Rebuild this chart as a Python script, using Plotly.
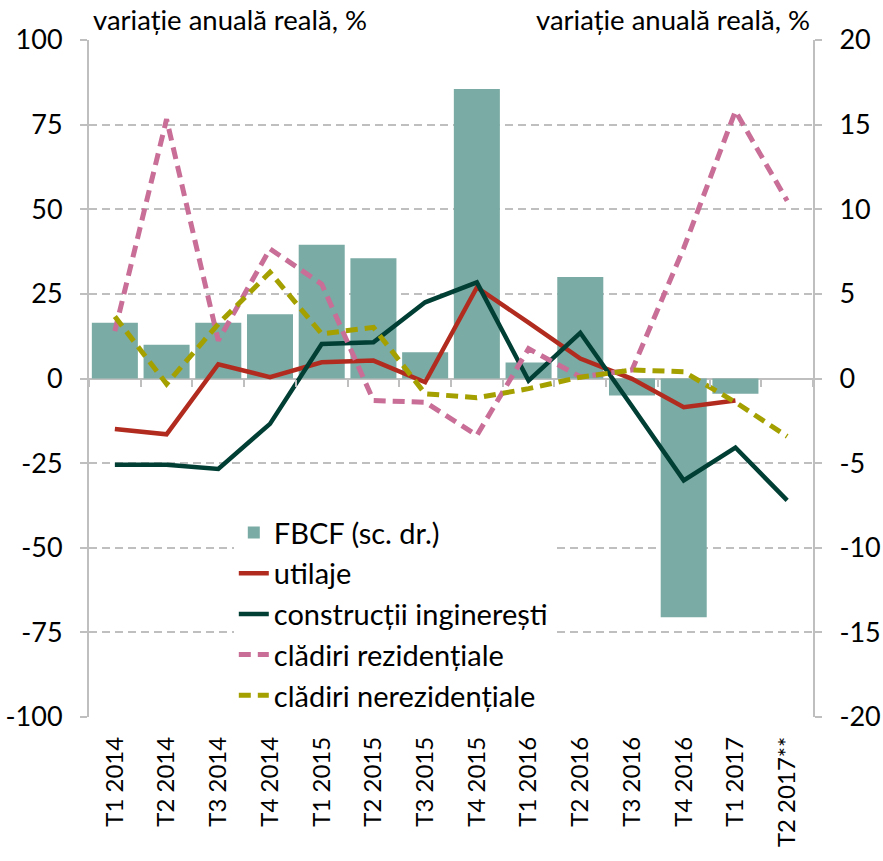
import plotly.graph_objects as go

categories = ["T1 2014", "T2 2014", "T3 2014", "T4 2014", "T1 2015", "T2 2015", "T3 2015",
              "T4 2015", "T1 2016", "T2 2016", "T3 2016", "T4 2016", "T1 2017", "T2 2017**"]

# FBCF, right scale (%)
fbcf = [3.3, 2.0, 3.3, 3.8, 7.9, 7.1, 1.55, 17.1, 0.95, 6.0, -1.0, -14.1, -0.9, None]
# left scale (%)
utilaje = [-14.9, -16.5, 4.2, 0.4, 4.8, 5.3, -1.1, 26.9, 16.5, 5.9, -0.1, -8.5, -6.5, None]
constructii = [-25.5, -25.5, -26.7, -13.4, 10.2, 10.7, 22.5, 28.4, -0.6, 13.5, -8.2, -30.1, -20.4, -36.0]
rezidentiale = [14.0, 76.6, 11.2, 38.3, 27.9, -6.5, -7.0, -16.8, 8.8, 0.5, 2.5, 38.5, 79.0, 52.5]
nerezidentiale = [18.3, -1.6, 16.1, 31.4, 13.2, 15.1, -4.5, -5.7, -3.0, 0.4, 2.5, 2.0, -7.0, -17.1]

left_ticks = [-100, -75, -50, -25, 0, 25, 50, 75, 100]
right_ticks = [-20, -15, -10, -5, 0, 5, 10, 15, 20]
axis_title = "variație anuală reală, %"

FONT = "Lato, 'Open Sans', sans-serif"
GRID = "#BFBFBF"

fig = go.Figure()

fig.add_trace(go.Bar(x=categories, y=fbcf, name="FBCF (sc. dr.)", marker_color="#7AABA4",
                     marker_line_width=0, yaxis="y", legendgroup="a"))
fig.add_trace(go.Scatter(x=categories, y=utilaje, name="utilaje", mode="lines",
                         line=dict(color="#B22B1F", width=4.5), yaxis="y2", legendgroup="b"))
fig.add_trace(go.Scatter(x=categories, y=constructii, name="construcții inginerești", mode="lines",
                         line=dict(color="#013F35", width=4.5), yaxis="y2", legendgroup="c"))
fig.add_trace(go.Scatter(x=categories, y=rezidentiale, name="clădiri rezidențiale", mode="lines",
                         line=dict(color="#C86E97", width=5, dash="12px,7px"), yaxis="y2", legendgroup="d"))
fig.add_trace(go.Scatter(x=categories, y=nerezidentiale, name="clădiri nerezidențiale", mode="lines",
                         line=dict(color="#A4A000", width=5, dash="12px,7px"), yaxis="y2", legendgroup="e"))
# invisible helper trace for the category tick marks on the zero line
fig.add_trace(go.Scatter(x=categories, y=constructii, mode="lines", xaxis="x2", yaxis="y2",
                         line=dict(width=0), opacity=0, showlegend=False, hoverinfo="skip"))

fig.update_layout(
    width=883, height=861,
    margin=dict(l=89, r=70, t=40, b=144),
    plot_bgcolor="white", paper_bgcolor="white",
    font=dict(family=FONT, size=24, color="black"),
    bargap=0.11,
    showlegend=True,
    legend=dict(x=0.2, y=0.31, xanchor="left", yanchor="top", bgcolor="white",
                font=dict(size=29), tracegroupgap=0, traceorder="grouped"),
    xaxis=dict(type="category", categoryorder="array", categoryarray=categories,
               range=[-0.5, len(categories) - 0.5], tickangle=-90, showline=False,
               showgrid=False, ticks="", ticklabelstandoff=14, tickfont=dict(size=24),
               automargin=False),
    xaxis2=dict(type="category", categoryorder="array", categoryarray=categories,
                range=[-0.5, len(categories) - 0.5], overlaying="x", anchor="free", position=0.5,
                showline=False, showgrid=False, showticklabels=False, ticks="outside",
                tickson="boundaries", ticklen=7, tickcolor=GRID, tickwidth=2, automargin=False),
    yaxis=dict(range=[-20, 20], tickvals=right_ticks, ticktext=[str(v) for v in right_ticks],
               side="right", showgrid=True,
               gridcolor=GRID, gridwidth=2, griddash="8px,5px", showline=True, linecolor=GRID,
               linewidth=2, ticks="outside", ticklen=7, tickcolor=GRID, tickwidth=2,
               zeroline=True, zerolinecolor=GRID, zerolinewidth=2, ticklabelstandoff=12,
               tickfont=dict(size=27), automargin=False),
    yaxis2=dict(range=[-100, 100], tickvals=left_ticks, ticktext=[str(v) for v in left_ticks],
                side="left", overlaying="y",
                showgrid=False, showline=True, linecolor=GRID, linewidth=2, ticks="outside",
                ticklen=7, tickcolor=GRID, tickwidth=2, zeroline=False, ticklabelstandoff=12,
                tickfont=dict(size=27), automargin=False),
    annotations=[
        dict(text=axis_title, xref="paper", yref="paper", x=0, y=1, xanchor="left",
             yanchor="bottom", xshift=2, yshift=2, showarrow=False, font=dict(size=27.5)),
        dict(text=axis_title, xref="paper", yref="paper", x=1, y=1, xanchor="right",
             yanchor="bottom", xshift=-1, yshift=2, showarrow=False, font=dict(size=27.5)),
    ],
)

fig.write_html(
    "out.html",
    config={"displayModeBar": False},
    post_script="document.documentElement.style.margin='0';document.body.style.margin='0';"
                "document.body.style.overflow='hidden';",
)
